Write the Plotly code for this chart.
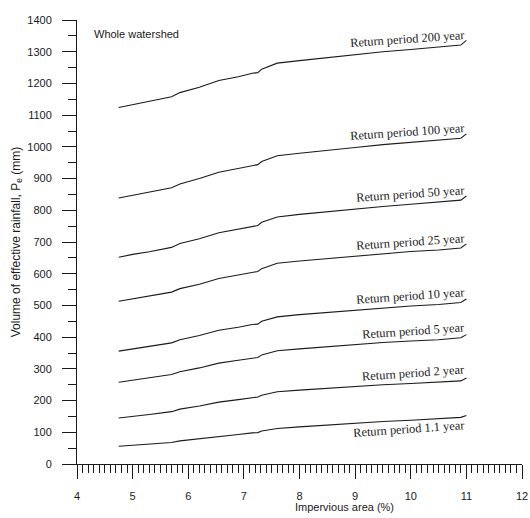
import numpy as np
import plotly.graph_objects as go

# Impervious area (%)
impervious = [4.75, 5.0, 5.3, 5.7, 5.85, 6.2, 6.55, 6.9, 7.15, 7.25, 7.32, 7.6,
              8.0, 8.5, 9.0, 9.5, 10.0, 10.5, 10.9, 11.0]

# Volume of effective rainfall (mm) per return period
rp_200 = [1124, 1133, 1143, 1158, 1171, 1188, 1209, 1221, 1232, 1234, 1245, 1264,
          1272, 1282, 1290, 1300, 1307, 1314, 1321, 1336]
rp_100 = [839, 848, 857, 871, 883, 900, 920, 932, 942, 944, 954, 972,
          980, 990, 998, 1007, 1014, 1020, 1027, 1041]
rp_50 = [652, 661, 669, 683, 695, 710, 729, 741, 750, 752, 762, 779,
         787, 796, 804, 812, 819, 825, 832, 845]
rp_25 = [513, 521, 529, 542, 553, 567, 585, 596, 605, 607, 616, 633,
         640, 648, 655, 663, 670, 675, 681, 694]
rp_10 = [356, 363, 371, 382, 392, 405, 422, 431, 440, 441, 450, 464,
         471, 478, 485, 492, 498, 503, 509, 520]
rp_5 = [258, 265, 272, 282, 291, 303, 318, 327, 335, 336, 344, 357,
        363, 370, 376, 383, 388, 392, 398, 408]
rp_2 = [145, 151, 156, 165, 173, 183, 195, 203, 209, 211, 217, 228,
        233, 239, 244, 250, 254, 258, 262, 271]
rp_1_1 = [56, 59, 63, 68, 73, 79, 87, 93, 98, 99, 104, 112,
          117, 123, 129, 134, 138, 142, 147, 153]

series = [rp_200, rp_100, rp_50, rp_25, rp_10, rp_5, rp_2, rp_1_1]
labels = ["Return period 200 year", "Return period 100 year", "Return period 50 year",
          "Return period 25 year", "Return period 10 year", "Return period 5 year",
          "Return period 2 year", "Return period 1.1 year"]

x_ticks = list(range(4, 13))
y_ticks = list(range(0, 1401, 100))

SANS = "Arial, Liberation Sans, sans-serif"
SERIF = "Times New Roman, Liberation Serif, serif"
INK = "#1a1a1a"

fig = go.Figure()
annotations = []
for vals, lab in zip(series, labels):
    fig.add_trace(go.Scatter(x=impervious, y=vals, mode="lines",
                             line=dict(color=INK, width=1.1), showlegend=False,
                             hoverinfo="skip"))
    below = lab.endswith("1.1 year")
    y_at = float(np.interp(10.0, impervious, vals))
    annotations.append(dict(x=11.0, y=y_at, xref="x", yref="y", text=lab,
                            showarrow=False, xanchor="right", yanchor="middle",
                            xshift=1, yshift=-9 if below else 10, textangle=-4,
                            font=dict(family=SERIF, size=12.4, color=INK)))

annotations.append(dict(x=4.27, y=1356, xref="x", yref="y", text="Whole watershed",
                        showarrow=False, xanchor="left", yanchor="middle",
                        font=dict(family=SANS, size=11, color=INK)))
annotations.append(dict(x=(344 - 77) / 445, y=-0.097, xref="paper", yref="paper",
                        text="Impervious area (%)", showarrow=False,
                        xanchor="center", yanchor="middle",
                        font=dict(family=SANS, size=11, color=INK)))

fig.update_layout(
    width=530, height=518,
    margin=dict(l=77, r=8, t=20, b=54, autoexpand=False),
    paper_bgcolor="white", plot_bgcolor="white",
    annotations=annotations,
    font=dict(family=SANS, size=11, color=INK),
)
fig.update_xaxes(range=[4, 12], tickvals=x_ticks, ticks="outside", ticklen=14,
                 tickwidth=1, tickcolor=INK, showline=True, linecolor=INK, linewidth=1,
                 showgrid=False, zeroline=False, ticklabelstandoff=8, automargin=False,
                 tickfont=dict(family=SANS, size=11, color=INK),
                 minor=dict(dtick=0.1, ticks="outside", ticklen=8, tickcolor=INK,
                            tickwidth=1, showgrid=False))
fig.update_yaxes(range=[0, 1400], tickvals=y_ticks, ticks="outside", ticklen=14,
                 tickwidth=1, tickcolor=INK, showline=True, linecolor=INK, linewidth=1,
                 showgrid=False, zeroline=False, ticklabelstandoff=8, automargin=False,
                 tickfont=dict(family=SANS, size=11, color=INK),
                 title=dict(text="Volume of effective rainfall, P<sub>e</sub> (mm)",
                            font=dict(family=SANS, size=12, color=INK), standoff=4),
                 minor=dict(dtick=50, ticks="outside", ticklen=8, tickcolor=INK,
                            tickwidth=1, showgrid=False))

fig.write_html("out.html")
